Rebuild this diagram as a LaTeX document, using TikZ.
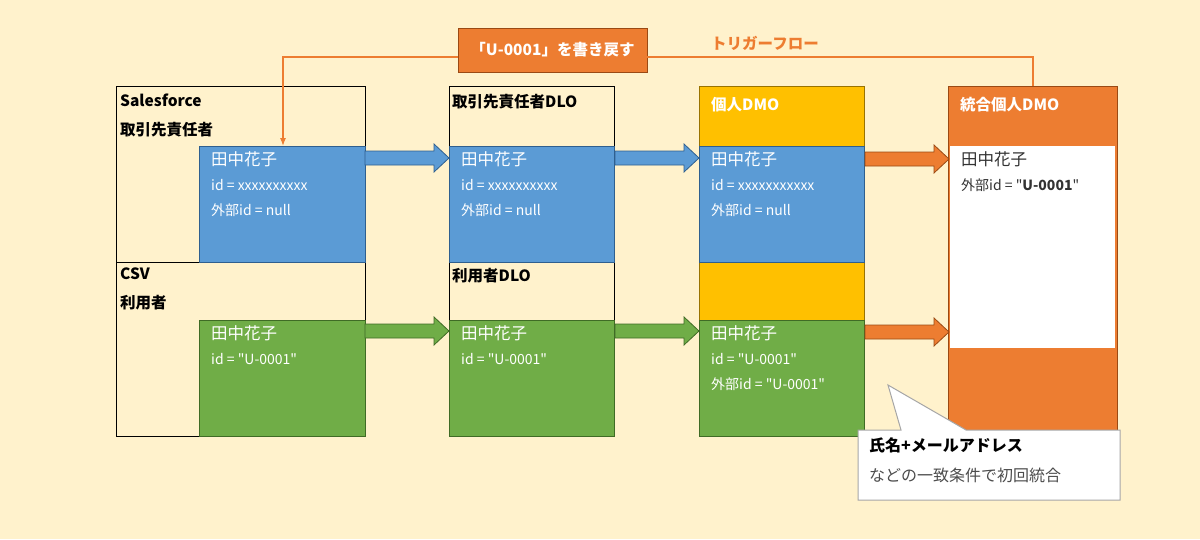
\documentclass[tikz,border=0pt]{standalone}
\usepackage{fontspec}
\setmainfont{Noto Sans CJK JP}[Ligatures=TeXOff]
\usetikzlibrary{arrows.meta}
\definecolor{bg}{HTML}{FFF2CC}
\definecolor{bl}{HTML}{5B9BD5}
\definecolor{bld}{HTML}{2E5F8F}
\definecolor{gr}{HTML}{70AD47}
\definecolor{grd}{HTML}{3F6B25}
\definecolor{yl}{HTML}{FFC000}
\definecolor{or}{HTML}{ED7D31}
\definecolor{ord}{HTML}{9A4A14}
\newcommand{\nmfont}{\fontsize{16.5}{26}\selectfont}
\begin{document}
\begin{tikzpicture}[x=1pt,y=-1pt,
  box/.style={draw=black,line width=1pt},
  hd/.style={anchor=north west,font=\bfseries\fontsize{15.5}{29}\selectfont,align=left,inner sep=0pt},
  rec/.style={anchor=north west,text=white,font=\fontsize{14}{25}\selectfont,align=left,inner sep=0pt},
  barr/.style={line width=0.8pt}]
\fill[bg] (0,0) rectangle (1200,539);
\useasboundingbox (0,0) rectangle (1200,539);
% column 1
\draw[box,fill=bg] (116,86) rectangle (365,262);
\draw[box,fill=bg] (116,262) rectangle (365,436);
\draw[fill=bl,draw=bld,line width=0.8pt] (199,146) rectangle (365,262);
\draw[fill=gr,draw=grd,line width=0.8pt] (199,320) rectangle (365,436);
\node[hd] (h1) at (120,94) {Salesforce\\取引先責任者};
\node[hd] (h2) at (120,268) {CSV\\利用者};
% column 2
\draw[box,fill=bg] (449,86) rectangle (614,262);
\draw[box,fill=bg] (449,262) rectangle (614,436);
\draw[fill=bl,draw=bld,line width=0.8pt] (449,146) rectangle (614,262);
\draw[fill=gr,draw=grd,line width=0.8pt] (449,320) rectangle (614,436);
\node[hd] (h3) at (452,94) {取引先責任者DLO};
\node[hd] (h4) at (452,268) {利用者DLO};
% column 3
\draw[fill=yl,draw=yl!60!black,line width=0.8pt] (699,86) rectangle (864,146);
\draw[fill=yl,draw=yl!60!black,line width=0.8pt] (699,262) rectangle (864,320);
\draw[fill=bl,draw=bld,line width=0.8pt] (699,146) rectangle (864,262);
\draw[fill=gr,draw=grd,line width=0.8pt] (699,320) rectangle (864,436);
\node[hd,text=white] (h5) at (711,97) {個人DMO};
% column 4
\draw[fill=or,draw=ord,line width=0.8pt] (948,86) rectangle (1117,440);
\fill[white] (950,146) rectangle (1115,348);
\node[hd,text=white] (h6) at (960,97) {統合個人DMO};
% records
\node[rec] (r1) at (211,151) {{\nmfont 田中花子}\\id = xxxxxxxxxx\\外部id = null};
\node[rec] (r2) at (461,151) {{\nmfont 田中花子}\\id = xxxxxxxxxx\\外部id = null};
\node[rec] (r3) at (711,151) {{\nmfont 田中花子}\\id = xxxxxxxxxxx\\外部id = null};
\node[rec] (r4) at (211,325) {{\nmfont 田中花子}\\id = "U-0001"};
\node[rec] (r5) at (461,325) {{\nmfont 田中花子}\\id = "U-0001"};
\node[rec] (r6) at (711,325) {{\nmfont 田中花子}\\id = "U-0001"\\外部id = "U-0001"};
\node[rec,text=black!80] (r7) at (961,151) {{\nmfont 田中花子}\\外部id = "\textbf{U-0001}"};
% block arrows
\foreach \x/\y/\f/\d in {365/158/bl/bld, 615/158/bl/bld, 865/159/or/ord, 365/331/gr/grd, 615/331/gr/grd, 865/332/or/ord}{
  \draw[barr,fill=\f,draw=\d] (\x,\y-7) -- (\x+69,\y-7) -- (\x+69,\y-14) -- (\x+84,\y) -- (\x+69,\y+14) -- (\x+69,\y+7) -- (\x,\y+7) -- cycle;
}
% top feedback
\node[draw=ord,fill=or,line width=0.8pt,minimum width=189pt,minimum height=44pt,text=white,font=\bfseries\fontsize{15.5}{18}\selectfont] (wb) at (552.5,50) {「U-0001」を書き戻す};
\coordinate (c1) at (1033,57);
\coordinate (c2) at (283,57);
\coordinate (t1) at (1033,86);
\coordinate (t2) at (283,146);
\draw[or,line width=1.2pt] (wb.east|-c1) -- (c1) -- (t1);
\draw[or,line width=1.2pt,-{Latex[length=8pt,width=6pt]}] (wb.west|-c2) -- (c2) -- (t2);
\node[text=or,font=\bfseries\fontsize{15.5}{18}\selectfont] (tf) at (765,43) {トリガーフロー};
% callout
\draw[draw=black!35,fill=white,line width=1pt] (858,430) -- (901,430) -- (888,385) -- (966,430) -- (1120,430) -- (1120,500) -- (858,500) -- cycle;
\node[anchor=north west,inner sep=0pt,align=left,font=\fontsize{16}{30}\selectfont,text=black!70] (co) at (869,437) {{\bfseries\color{black} 氏名+メールアドレス}\\などの一致条件で初回統合};
\end{tikzpicture}
\end{document}
